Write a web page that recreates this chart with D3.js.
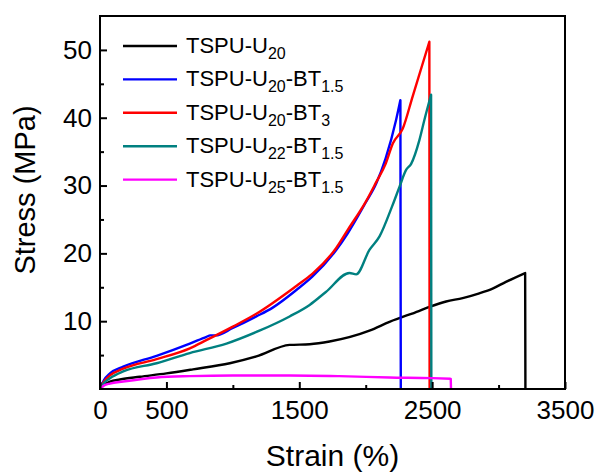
<!DOCTYPE html>
<html>
<head>
<meta charset="utf-8">
<script src="https://cdn.jsdelivr.net/npm/d3@7"></script>
<style>
  body { margin: 0; background: #fff; }
  svg { font-family: Arial, "Liberation Sans", sans-serif; }
</style>
</head>
<body>
<svg id="grafico"></svg>
<script>
// datos: deformacion (%) y esfuerzo (MPa)
// el ultimo punto de cada serie es la caida a cero (rotura)
const strainU20 = [0, 30, 75, 150, 300, 500, 700, 977, 1177, 1427, 1578, 1728, 2028, 2179, 2400, 2479, 2605, 2730, 2855, 2955, 3055, 3200, 3202];
const stressU20 = [0, 0.6, 1.1, 1.4, 1.8, 2.3, 2.9, 3.8, 4.8, 6.5, 6.6, 7.0, 8.6, 9.9, 11.5, 12.1, 12.9, 13.4, 14.1, 14.8, 15.8, 17.1, 0];

const strainU20BT15 = [0, 30, 75, 175, 426, 676, 802, 830, 870, 1000, 1177, 1300, 1478, 1600, 1778, 1866, 2000, 2079, 2150, 2229, 2261, 2264];
const stressU20BT15 = [0, 1.3, 2.3, 3.3, 4.9, 6.7, 7.7, 7.9, 7.9, 9.0, 10.7, 12.0, 14.6, 16.6, 20.5, 23.0, 27.5, 30.3, 34.0, 39.7, 42.6, 0];

const strainU20BT3 = [0, 30, 75, 175, 426, 676, 800, 1000, 1177, 1478, 1600, 1778, 1866, 2000, 2079, 2150, 2204, 2279, 2354, 2479, 2481];
const stressU20BT3 = [0, 1.1, 2.0, 3.0, 4.4, 6.0, 7.2, 9.2, 11.1, 15.2, 17.0, 20.8, 23.5, 27.6, 30.5, 33.2, 36.2, 38.4, 43.2, 51.2, 0];

const strainU22BT15 = [0, 30, 75, 175, 426, 676, 952, 1200, 1427, 1578, 1700, 1878, 1928, 2028, 2104, 2200, 2254, 2304, 2342, 2404, 2442, 2492, 2494];
const stressU22BT15 = [0, 0.9, 1.6, 2.6, 3.8, 5.3, 6.7, 8.6, 10.7, 12.4, 14.3, 17.1, 16.9, 20.5, 22.5, 27.0, 29.8, 32.3, 33.2, 36.7, 39.7, 43.4, 0];

const strainU25BT15 = [0, 30, 75, 175, 426, 676, 1000, 1427, 1800, 2179, 2500, 2640, 2642];
const stressU25BT15 = [0, 0.5, 0.8, 1.1, 1.7, 1.9, 2.0, 2.0, 1.9, 1.7, 1.6, 1.5, 0];

// nombre de cada serie: [texto, subindice] por partes
const nombres = [
  [["TSPU-U", false], ["20", true]],
  [["TSPU-U", false], ["20", true], ["-BT", false], ["1.5", true]],
  [["TSPU-U", false], ["20", true], ["-BT", false], ["3", true]],
  [["TSPU-U", false], ["22", true], ["-BT", false], ["1.5", true]],
  [["TSPU-U", false], ["25", true], ["-BT", false], ["1.5", true]]
];
const colores = ["#000000", "#0000ff", "#ff0000", "#008080", "#ff00ff"];

const ticksX = [0, 500, 1500, 2500, 3500];
const ticksXMenor = [1000, 2000, 3000];
const ticksY = [10, 20, 30, 40, 50];
const ticksYMenor = [5, 15, 25, 35, 45];

const series = [
  [strainU20, stressU20],
  [strainU20BT15, stressU20BT15],
  [strainU20BT3, stressU20BT3],
  [strainU22BT15, stressU22BT15],
  [strainU25BT15, stressU25BT15]
].map(([xs, ys], i) => ({
  nombre: nombres[i],
  color: colores[i],
  puntos: xs.map((x, j) => ({ x: x, y: ys[j] }))
}));

const WIDTH = 601,
  HEIGHT = 476;

const margins = { top: 16, bottom: 87, left: 100, right: 36 };

const svg = d3.select("#grafico")
  .attr("width", WIDTH)
  .attr("height", HEIGHT);

const escalaX = d3.scaleLinear()
  .domain([0, 3500])
  .range([margins.left, WIDTH - margins.right]);

const escalaY = d3.scaleLinear()
  .domain([0, 55])
  .range([HEIGHT - margins.bottom, margins.top]);

const linea = d3.line()
  .x(d => escalaX(d.x))
  .y(d => escalaY(d.y))
  .curve(d3.curveMonotoneX);

// curva suave hasta la rotura y luego la caida recta
const trazo = (puntos) => {
  const curva = puntos.slice(0, -1);
  const caida = puntos[puntos.length - 1];
  return linea(curva) + `L${escalaX(caida.x)},${escalaY(caida.y)}`;
};

// curvas
svg.append("g")
  .selectAll("path")
  .data(series)
  .join("path")
  .attr("d", d => trazo(d.puntos))
  .attr("fill", "none")
  .attr("stroke", d => d.color)
  .attr("stroke-width", 2.4)
  .attr("stroke-linejoin", "round");

// ejes con ticks hacia adentro
const ejeX = d3.axisBottom(escalaX)
  .tickValues(ticksX)
  .tickFormat(d3.format("d"))
  .tickSize(-7)
  .tickPadding(12);

const ejeXMenor = d3.axisBottom(escalaX)
  .tickValues(ticksXMenor)
  .tickFormat("")
  .tickSize(-4);

const ejeY = d3.axisLeft(escalaY)
  .tickValues(ticksY)
  .tickSize(-7)
  .tickPadding(8);

const ejeYMenor = d3.axisLeft(escalaY)
  .tickValues(ticksYMenor)
  .tickFormat("")
  .tickSize(-4);

svg.append("g")
  .attr("transform", `translate(0 ${HEIGHT - margins.bottom})`)
  .call(ejeX);
svg.append("g")
  .attr("transform", `translate(0 ${HEIGHT - margins.bottom})`)
  .call(ejeXMenor);

svg.append("g")
  .attr("transform", `translate(${margins.left} 0)`)
  .call(ejeY);
svg.append("g")
  .attr("transform", `translate(${margins.left} 0)`)
  .call(ejeYMenor);

svg.selectAll(".domain").remove();
svg.selectAll(".tick line")
  .attr("stroke", "#000")
  .attr("stroke-width", 2);
svg.selectAll(".tick text")
  .attr("fill", "#000")
  .attr("font-size", 26)
  .attr("font-family", "Arial, 'Liberation Sans', sans-serif");

// marco
svg.append("rect")
  .attr("x", margins.left)
  .attr("y", margins.top)
  .attr("width", WIDTH - margins.left - margins.right)
  .attr("height", HEIGHT - margins.top - margins.bottom)
  .attr("fill", "none")
  .attr("stroke", "#000")
  .attr("stroke-width", 2);

// titulos de ejes
svg.append("text")
  .attr("x", (margins.left + WIDTH - margins.right) / 2)
  .attr("y", 466)
  .attr("text-anchor", "middle")
  .attr("font-size", 30)
  .text("Strain (%)");

svg.append("text")
  .attr("transform", "translate(35 190) rotate(-90)")
  .attr("text-anchor", "middle")
  .attr("font-size", 29)
  .text("Stress (MPa)");

// leyenda
const leyenda = svg.append("g");
const filas = leyenda.selectAll("g")
  .data(series)
  .join("g")
  .attr("transform", (_, i) => `translate(0 ${46 + i * 33.4})`);

filas.append("line")
  .attr("x1", 123)
  .attr("x2", 177)
  .attr("stroke", d => d.color)
  .attr("stroke-width", 2.4);

const textos = filas.append("text")
  .attr("x", 186)
  .attr("y", 7)
  .attr("font-size", 22);

textos.each(function (d) {
  const t = d3.select(this);
  d.nombre.forEach(([parte, sub], k) => {
    const previo = k > 0 ? d.nombre[k - 1][1] : false;
    let dy = 0;
    if (sub && !previo) dy = 6;
    if (!sub && previo) dy = -6;
    t.append("tspan")
      .attr("dy", dy)
      .attr("font-size", sub ? 16 : 22)
      .text(parte);
  });
});
</script>
</body>
</html>
